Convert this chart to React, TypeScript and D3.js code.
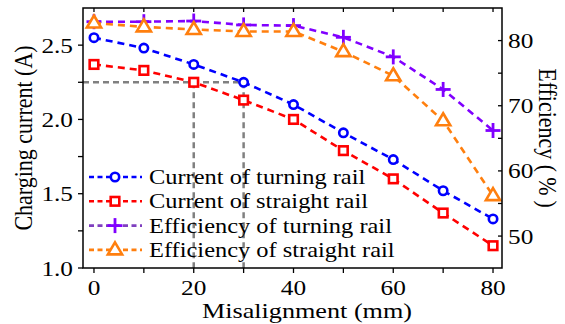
import React from "react";
import * as d3 from "d3";

const misalignment = [0, 10, 20, 30, 40, 50, 60, 70, 80];
const currentTurning = [2.55, 2.48, 2.37, 2.25, 2.1, 1.91, 1.73, 1.52, 1.33];
const currentStraight = [2.37, 2.33, 2.25, 2.13, 2.0, 1.79, 1.6, 1.37, 1.15];
const efficiencyTurning = [82.9, 82.9, 83.0, 82.4, 82.3, 80.5, 77.5, 72.5, 66.2];
const efficiencyStraight = [82.7, 82.1, 81.7, 81.4, 81.4, 78.3, 74.6, 67.7, 56.2];
const xTicks = [0, 10, 20, 30, 40, 50, 60, 70, 80];
const xLabels = [0, 20, 40, 60, 80];
const yLeftTicks = [1.0, 1.25, 1.5, 1.75, 2.0, 2.25, 2.5];
const yLeftLabels = [1.0, 1.5, 2.0, 2.5];
const yRightTicks = [50, 55, 60, 65, 70, 75, 80];
const yRightLabels = [50, 60, 70, 80];
const guideCurrent = 2.25;
const guideX = [20, 30];
const legendLabels = [
  "Current of turning rail",
  "Current of straight rail",
  "Efficiency of turning rail",
  "Efficiency of straight rail",
];

const L = 83, R = 502, T = 8, B = 268;
const FONT = "Liberation Serif, serif";

function SText({ x, y, size, sx, anchor, rotate, children }: any) {
  return (
    <text
      transform={`translate(${x},${y}) scale(${sx},1)${rotate ? ` rotate(${rotate})` : ""}`}
      fontSize={size}
      textAnchor={anchor || "start"}
      fontFamily={FONT}
      fill="black"
    >
      {children}
    </text>
  );
}

function Marker({ kind, x, y, color }: { kind: string; x: number; y: number; color: string }) {
  if (kind === "circle") return <circle cx={x} cy={y} r={4.2} fill="white" stroke={color} strokeWidth={2.6} />;
  if (kind === "square") return <rect x={x - 4.3} y={y - 4.3} width={8.6} height={8.6} fill="white" stroke={color} strokeWidth={2.6} />;
  if (kind === "plus")
    return (
      <g stroke={color} strokeWidth={2.8}>
        <line x1={x - 7.5} x2={x + 7.5} y1={y} y2={y} />
        <line x1={x} x2={x} y1={y - 7.5} y2={y + 7.5} />
      </g>
    );
  const s = 7.5;
  return (
    <path
      d={`M${x},${y - s}L${x + s * 0.95},${y + s * 0.6}L${x - s * 0.95},${y + s * 0.6}Z`}
      fill="white"
      stroke={color}
      strokeWidth={2.6}
    />
  );
}

export default function App() {
  const x = d3.scaleLinear().domain([-2.2, 81.8]).range([L, R]);
  const yL = d3.scaleLinear().domain([1.0, 2.75]).range([B, T]);
  const yR = d3.scaleLinear().domain([45.1, 85.0]).range([B, T]);

  const series = [
    { vals: currentTurning, scale: yL, color: "#0000ff", legendColor: "#0000ff", kind: "circle" },
    { vals: currentStraight, scale: yL, color: "#ff0000", legendColor: "#ff0000", kind: "square" },
    { vals: efficiencyTurning, scale: yR, color: "#8000ff", legendColor: "#7f3fbf", kind: "plus" },
    { vals: efficiencyStraight, scale: yR, color: "#ff7f0e", legendColor: "#ff7f0e", kind: "triangle" },
  ];

  return (
    <svg width={565} height={324} style={{ position: "absolute", left: 0, top: 0 }}>
      <rect width={565} height={324} fill="white" />
      <g stroke="#808080" strokeWidth={2.5} strokeDasharray="6,4" fill="none">
        <line x1={L} x2={x(guideX[1])} y1={yL(guideCurrent)} y2={yL(guideCurrent)} />
        {guideX.map((g) => (
          <line key={g} x1={x(g)} x2={x(g)} y1={yL(guideCurrent)} y2={B} />
        ))}
      </g>
      {series.map((s, i) => {
        const line = d3
          .line<number>()
          .x((_, j) => x(misalignment[j]))
          .y((v) => s.scale(v));
        return (
          <g key={i}>
            <path d={line(s.vals) || ""} fill="none" stroke={s.color} strokeWidth={2.6} strokeDasharray="7,5" />
            {s.vals.map((v, j) => (
              <Marker key={j} kind={s.kind} x={x(misalignment[j])} y={s.scale(v)} color={s.color} />
            ))}
          </g>
        );
      })}
      <rect x={L} y={T} width={R - L} height={B - T} fill="none" stroke="black" strokeWidth={1.5} />
      {xTicks.map((t) => (
        <g key={t}>
          <line x1={x(t)} x2={x(t)} y1={B} y2={B + 5} stroke="black" strokeWidth={1.3} />
          <line x1={x(t)} x2={x(t)} y1={T} y2={T + 4} stroke="black" strokeWidth={1.3} />
        </g>
      ))}
      {xLabels.map((t) => (
        <SText key={t} x={x(t)} y={295} size={22} sx={1.15} anchor="middle">
          {t}
        </SText>
      ))}
      {yLeftTicks.map((t) => (
        <line key={t} x1={L - 5} x2={L} y1={yL(t)} y2={yL(t)} stroke="black" strokeWidth={1.3} />
      ))}
      {yLeftLabels.map((t) => (
        <SText key={t} x={73} y={yL(t) + 7.5} size={22} sx={1.15} anchor="end">
          {t.toFixed(1)}
        </SText>
      ))}
      {yRightTicks.map((t) => (
        <line key={t} x1={R - 4} x2={R} y1={yR(t)} y2={yR(t)} stroke="black" strokeWidth={1.3} />
      ))}
      {yRightLabels.map((t) => (
        <SText key={t} x={508} y={yR(t) + 7.5} size={22} sx={1.15} anchor="start">
          {t}
        </SText>
      ))}
      <SText x={307} y={318} size={22} sx={1.19} anchor="middle">
        Misalignment (mm)
      </SText>
      <SText x={32} y={(T + B) / 2} size={22} sx={1.1} anchor="middle" rotate={-90}>
        Charging current (A)
      </SText>
      <SText x={539} y={(T + B) / 2} size={22} sx={1.1} anchor="middle" rotate={90}>
        <tspan>Efficiency (</tspan>
        <tspan dx={5}>%</tspan>
        <tspan dx={5}>)</tspan>
      </SText>
      {series.map((s, i) => {
        const ly = 177 + i * 24.3;
        return (
          <g key={i}>
            <line x1={89} x2={142} y1={ly} y2={ly} stroke={s.legendColor} strokeWidth={2.6} strokeDasharray="5,3.5" />
            <Marker kind={s.kind} x={115} y={ly} color={s.color} />
            <SText x={149} y={ly + 7} size={22} sx={1.11}>
              {legendLabels[i]}
            </SText>
          </g>
        );
      })}
    </svg>
  );
}
